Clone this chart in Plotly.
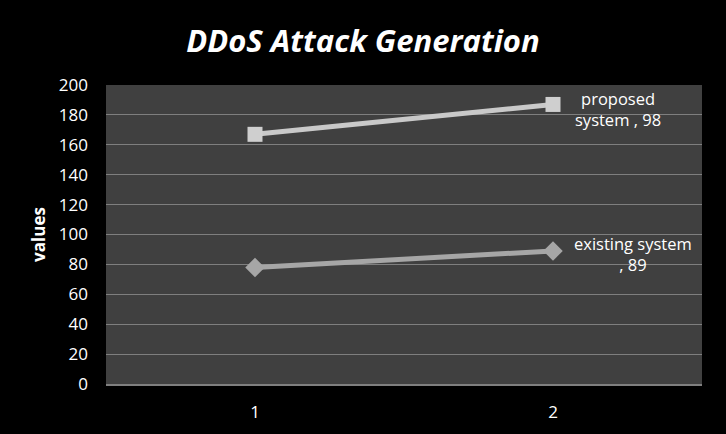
import plotly.graph_objects as go

categories = [1, 2]
proposed = [167, 187]
existing = [78, 89]
title = "DDoS Attack Generation"
y_title = "values"
proposed_label = "proposed<br>system , 98"
existing_label = "existing system<br>, 89"

FONT = "Open Sans, Lato, sans-serif"

fig = go.Figure()
fig.add_trace(go.Scatter(
    x=categories, y=proposed, mode="lines+markers",
    line=dict(color="#c9c9c9", width=5),
    marker=dict(symbol="square", size=15, color="#cfcfcf"),
    showlegend=False))
fig.add_trace(go.Scatter(
    x=categories, y=existing, mode="lines+markers",
    line=dict(color="#a6a6a6", width=5),
    marker=dict(symbol="diamond", size=15, color="#a6a6a6"),
    showlegend=False))

fig.add_annotation(x=categories[1], y=proposed[1], text=proposed_label,
                   xanchor="center", yanchor="middle", xshift=65, yshift=-5,
                   showarrow=False, align="center",
                   font=dict(family=FONT, size=16.5, color="white"))
fig.add_annotation(x=categories[1], y=existing[1], text=existing_label,
                   xanchor="center", yanchor="middle", xshift=80, yshift=-3,
                   showarrow=False, align="center",
                   font=dict(family=FONT, size=16.5, color="white"))

fig.update_layout(
    width=726, height=434,
    margin=dict(l=106, r=24, t=85, b=50),
    paper_bgcolor="black", plot_bgcolor="#404040",
    title=dict(text="<b><i>" + title + "</i></b>", x=0.5, xanchor="center",
               y=0.905, yanchor="middle",
               font=dict(family=FONT, size=31, color="white")),
    font=dict(family=FONT, color="white"),
)
fig.update_xaxes(range=[0.5, 2.5], tickvals=categories, ticktext=[str(c) for c in categories],
                 showgrid=False, zeroline=False, showline=True, linecolor="#7f7f7f", linewidth=2,
                 tickfont=dict(size=17, color="white"), ticks="", ticklabelstandoff=12,
                 automargin=False)
fig.update_yaxes(range=[0, 200], dtick=20, showgrid=True, gridcolor="#7f7f7f", gridwidth=1,
                 zeroline=False, showline=False, automargin=False,
                 tickfont=dict(size=17, color="white"), ticks="", ticklabelstandoff=17,
                 title=dict(text="<b>" + y_title + "</b>", font=dict(size=17, color="white"),
                            standoff=8))

fig.write_html("out.html")
